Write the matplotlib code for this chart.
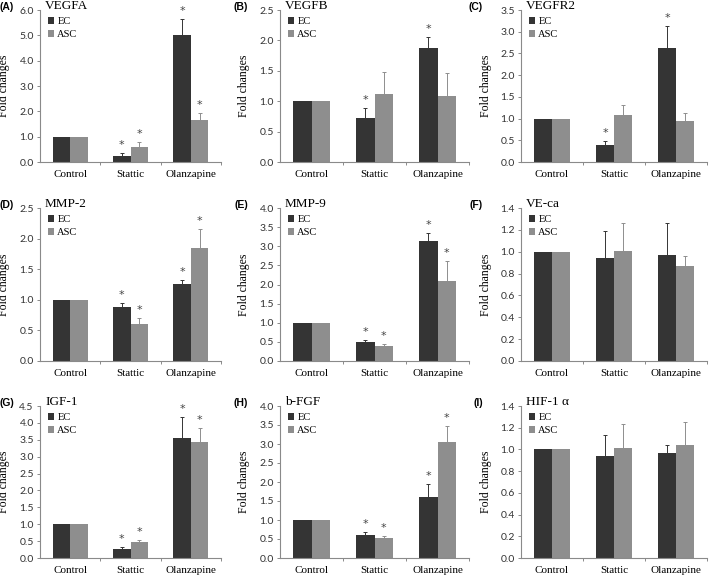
import matplotlib
matplotlib.use('Agg')
import matplotlib.pyplot as plt
import numpy as np

# data ---------------------------------------------------------------
groups = ['Control', 'Stattic', 'Olanzapine']
panels = ['(A)', '(B)', '(C)', '(D)', '(E)', '(F)', '(G)', '(H)', '(I)']
titles = ['VEGFA', 'VEGFB', 'VEGFR2', 'MMP-2', 'MMP-9', 'VE-ca', 'IGF-1', 'b-FGF', 'HIF-1 α']

ec_mean = [[1.0, 0.25, 5.02], [1.0, 0.72, 1.88], [1.0, 0.38, 2.62],
           [1.0, 0.89, 1.26], [1.0, 0.50, 3.14], [1.0, 0.94, 0.97],
           [1.0, 0.28, 3.55], [1.0, 0.60, 1.61], [1.0, 0.94, 0.97]]
ec_err = [[0.0, 0.12, 0.63], [0.0, 0.16, 0.17], [0.0, 0.10, 0.51],
          [0.0, 0.06, 0.06], [0.0, 0.05, 0.21], [0.0, 0.25, 0.29],
          [0.0, 0.05, 0.62], [0.0, 0.09, 0.33], [0.0, 0.19, 0.07]]
asc_mean = [[1.0, 0.60, 1.65], [1.0, 1.12, 1.09], [1.0, 1.09, 0.94],
            [1.0, 0.61, 1.84], [1.0, 0.38, 2.09], [1.0, 1.01, 0.87],
            [1.0, 0.46, 3.42], [1.0, 0.52, 3.06], [1.0, 1.01, 1.04]]
asc_err = [[0.0, 0.20, 0.27], [0.0, 0.36, 0.38], [0.0, 0.23, 0.18],
           [0.0, 0.09, 0.32], [0.0, 0.06, 0.52], [0.0, 0.25, 0.09],
           [0.0, 0.08, 0.44], [0.0, 0.06, 0.42], [0.0, 0.22, 0.21]]
# significance stars (EC, ASC) per group
ec_star = [[0, 1, 1], [0, 1, 1], [0, 1, 1], [0, 1, 1], [0, 1, 1], [0, 0, 0],
           [0, 1, 1], [0, 1, 1], [0, 0, 0]]
asc_star = [[0, 1, 1], [0, 0, 0], [0, 0, 0], [0, 1, 1], [0, 1, 1], [0, 0, 0],
            [0, 1, 1], [0, 1, 1], [0, 0, 0]]
ymax = [6.0, 2.5, 3.5, 2.5, 4.0, 1.4, 4.5, 4.0, 1.4]
ystep = [1.0, 0.5, 0.5, 0.5, 0.5, 0.2, 0.5, 0.5, 0.2]

# layout (pixels) ------------------------------------------------------
W, H = 709, 578
fig = plt.figure(figsize=(W / 100, H / 100), dpi=100)
lefts = [40, 280, 521]
rights = [221, 469, 707]
tops = [10, 208, 406]
bottoms = [162, 361, 558]
label_right = [14, 248, 483]

c_ec = '#343434'
c_asc = '#8e8e8e'
c_axis = '#8a8a8a'
serif = 'Liberation Serif'
sans = 'Lato'
bw = 0.29
x = np.arange(3) + 0.5

for i in range(9):
    r, c = divmod(i, 3)
    wpx = rights[c] - lefts[c]
    hpx = bottoms[r] - tops[r]
    ax = fig.add_axes([lefts[c] / W, 1 - bottoms[r] / H, wpx / W, hpx / H])
    ax.bar(x - bw / 2, ec_mean[i], bw, color=c_ec, label='EC', zorder=2)
    ax.bar(x + bw / 2, asc_mean[i], bw, color=c_asc, label='ASC', zorder=2)
    ax.errorbar(x - bw / 2, ec_mean[i], yerr=[np.zeros(3), ec_err[i]], fmt='none',
                ecolor=c_ec, elinewidth=0.7, capsize=1.6, capthick=0.7, zorder=1)
    ax.errorbar(x + bw / 2, asc_mean[i], yerr=[np.zeros(3), asc_err[i]], fmt='none',
                ecolor=c_asc, elinewidth=0.7, capsize=1.6, capthick=0.7, zorder=1)
    pad = ymax[i] * 0.02
    for j in range(3):
        if ec_star[i][j]:
            ax.text(x[j] - bw / 2, ec_mean[i][j] + ec_err[i][j] + pad, '*',
                    ha='center', va='bottom', fontsize=8, color='#444444')
        if asc_star[i][j]:
            ax.text(x[j] + bw / 2, asc_mean[i][j] + asc_err[i][j] + pad, '*',
                    ha='center', va='bottom', fontsize=8, color='#444444')

    ax.set_xlim(0, 3)
    ax.set_ylim(0, ymax[i])
    ax.set_yticks(np.arange(0, ymax[i] + 1e-6, ystep[i]))
    ax.yaxis.set_major_formatter(matplotlib.ticker.FormatStrFormatter('%.1f'))
    ax.set_xticks(x)
    ax.set_xticklabels(groups, fontfamily=serif, fontsize=8)
    ax.set_xticks([1, 2, 3], minor=True)
    ax.tick_params(axis='x', which='major', length=0, pad=6)
    ax.tick_params(axis='x', which='minor', length=2.5, width=0.7, color=c_axis, direction='out')
    ax.tick_params(axis='y', length=2.5, width=0.7, color=c_axis, labelsize=7.5,
                   labelcolor='#333333', pad=2)
    for lab in ax.get_yticklabels():
        lab.set_fontfamily(sans)
    for s in ['top', 'right']:
        ax.spines[s].set_visible(False)
    for s in ['left', 'bottom']:
        ax.spines[s].set_color(c_axis)
        ax.spines[s].set_linewidth(0.8)

    ax.set_ylabel('Fold changes', fontfamily=serif, fontsize=8.5)
    ax.yaxis.set_label_coords(-29.5 / wpx, 0.5)
    ax.text(5 / wpx, 1 + 4 / hpx, titles[i], transform=ax.transAxes, fontfamily=serif,
            fontsize=9.5, ha='left', va='center')
    fig.text(label_right[c] / W, 1 - (tops[r] - 3) / H, panels[i], fontfamily='Liberation Sans',
             fontweight='bold', fontsize=7.5, ha='right', va='center')
    ax.legend(loc='upper left', bbox_to_anchor=(8 / wpx, 1 - 7 / hpx), frameon=False,
              prop={'family': serif, 'size': 7.5}, handlelength=0.6, handleheight=0.6,
              handletextpad=0.3, labelspacing=0.4, borderpad=0, borderaxespad=0)

fig.savefig('out.png', dpi=100)
